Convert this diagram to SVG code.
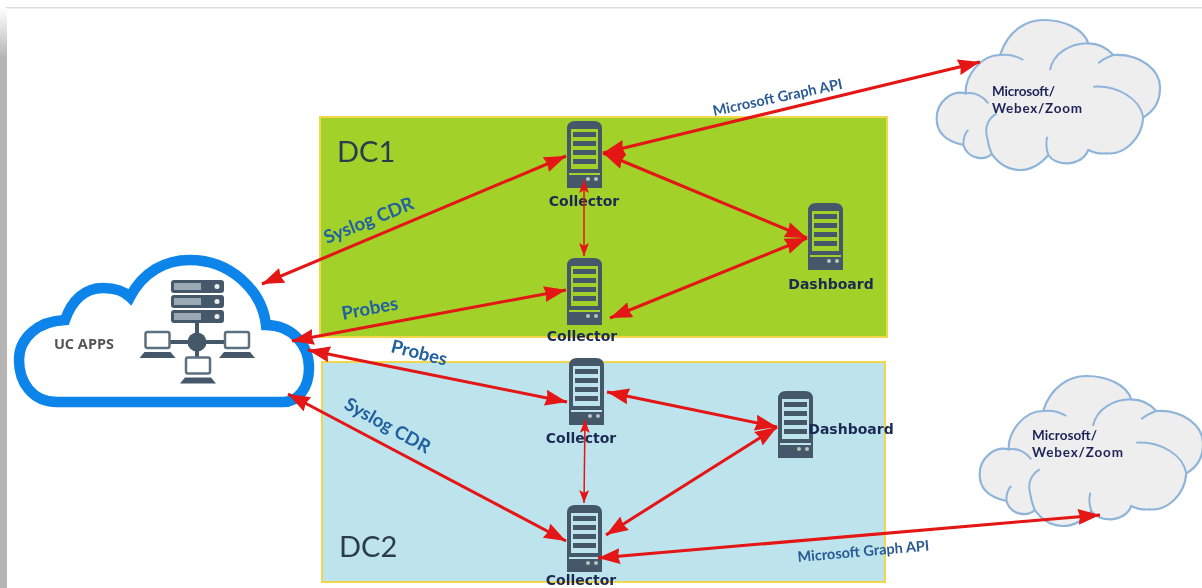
<svg xmlns="http://www.w3.org/2000/svg" width="1202" height="588" viewBox="0 0 1202 588">
<style>
.box{stroke:#f2d64b;stroke-width:2}
.node{font-family:"DejaVu Sans","Liberation Sans",sans-serif;font-weight:700;font-size:14px;fill:#1d2a52;text-anchor:middle}
.dc{font-family:"Lato","Liberation Sans",sans-serif;font-size:29px;fill:#2b3a4a}
.lab{font-family:"Lato","Liberation Sans",sans-serif;font-weight:700;font-size:18.500px;fill:#20609f}
.api{font-family:"Lato","Liberation Sans",sans-serif;font-weight:700;font-size:14.500px;fill:#2a5a94}
.cl{font-family:"Lato","Liberation Sans",sans-serif;font-weight:700;font-size:13.500px;fill:#1f2458}
.a{stroke:#e41212;stroke-width:3;fill:none;marker-start:url(#s);marker-end:url(#e)}
.t{stroke:#e41212;stroke-width:1.500;fill:none;marker-start:url(#s2);marker-end:url(#e2)}
.ic{fill:#44596b}
.cf{fill:#eeeeee;stroke:#8fb4da;stroke-width:6.500}
.cs{fill:none;stroke:#8fb4da;stroke-width:6}
</style>
<defs>
<filter id="soft" x="0" y="0" width="100%" height="100%"><feGaussianBlur stdDeviation="0.500"/></filter>
<linearGradient id="side" x1="0" y1="0" x2="0" y2="1"><stop offset="0" stop-color="#ffffff"/><stop offset="1" stop-color="#b5b5b5"/></linearGradient>
<marker id="e" markerUnits="userSpaceOnUse" markerWidth="23" markerHeight="16" refX="22" refY="8" orient="auto"><path d="M0 0L22 8L0 16L2 8Z" fill="#e41212"/></marker>
<marker id="s" markerUnits="userSpaceOnUse" markerWidth="23" markerHeight="16" refX="1" refY="8" orient="auto"><path d="M23 0L1 8L23 16L21 8Z" fill="#e41212"/></marker>
<marker id="e2" markerUnits="userSpaceOnUse" markerWidth="14" markerHeight="10" refX="13" refY="5" orient="auto"><path d="M0 0L13 5L0 10L3 5Z" fill="#e41212"/></marker>
<marker id="s2" markerUnits="userSpaceOnUse" markerWidth="14" markerHeight="10" refX="1" refY="5" orient="auto"><path d="M14 0L1 5L14 10L11 5Z" fill="#e41212"/></marker>
<g id="srv">
<path class="ic" fill-rule="evenodd" d="M8 0H27Q35 0 35 8V67H0V8Q0 0 8 0ZM4 8V48H31V8ZM2 52V54H33V52Z"/>
<rect x="6" y="11" width="23" height="5" class="ic"/>
<rect x="6" y="20" width="23" height="5" class="ic"/>
<rect x="6" y="29" width="23" height="5" class="ic"/>
<rect x="6" y="38" width="23" height="5" class="ic"/>
<circle cx="21" cy="58" r="2" fill="#b8c4bc"/><circle cx="29" cy="58" r="2" fill="#b8c4bc"/>
</g>
<g id="lap">
<rect x="-12" y="-8" width="24" height="16" rx="2" fill="#fff" stroke="#5c7080" stroke-width="2.500"/>
<path class="ic" d="M-13 12H13L18 18H-18Z"/>
</g>
<g id="rack">
<rect width="53" height="13" rx="3" class="ic"/>
<rect x="3" y="3" width="27" height="7" fill="#9aa9b4"/>
<circle cx="46" cy="6.500" r="2.500" fill="#e8eef0"/>
</g>
<g id="gray">
<path class="cf" d="M130 405C80 395 50 370 50 325C50 275 95 240 137 250C135 200 180 135 240 135C265 60 320 30 370 30C430 30 490 55 505 100C540 100 565 118 580 135C660 130 722 180 720 235C720 275 700 305 670 322C665 390 610 435 560 430C540 432 520 428 505 420C495 445 470 460 440 460C415 460 395 450 385 435C360 465 330 480 300 480C265 480 235 460 215 432C195 452 145 450 130 405Z"/>
<path class="cs" d="M240 135C265 132 290 138 310 150M137 250C165 245 190 260 205 280M130 405C130 385 135 368 145 360M230 310C205 325 195 350 200 375C203 395 208 415 215 432M385 435C378 415 378 395 382 380M390 180C400 130 450 100 505 100M535 160C548 148 565 140 580 135M520 230C590 225 660 265 670 322"/>
</g>
</defs>
<rect width="1202" height="588" fill="#fff"/>
<g filter="url(#soft)">
<rect x="6" y="7" width="1196" height="1.500" fill="#dddddd"/>
<rect y="8" width="7" height="50" fill="url(#side)"/>
<rect y="58" width="7" height="530" fill="#b5b5b5"/>
<g id="dc1"><rect class="box" x="320" y="117" width="567" height="220" fill="#a2d12c"/><text class="dc" x="337" y="162">DC1</text></g>
<g id="dc2"><rect class="box" x="322" y="362" width="563" height="220" fill="#bde4ec"/><text class="dc" x="339" y="557">DC2</text></g>
<g id="uc-apps">
<path fill="#fff" stroke="#0a84ea" stroke-width="10.500" d="M57 402C32 402 19 382 19 360C19 338 38 321 65 320C72 300 85 288 103 288C115 288 124 291 130 297C143 272 165 260 190 260C230 260 262 290 266 325C292 325 309 345 309 368C309 388 298 402 283 402Z"/>
<text x="84" y="349" font-family="Open Sans,Liberation Sans,sans-serif" font-weight="700" font-size="14.500px" fill="#545454" text-anchor="middle">UC APPS</text>
<use href="#rack" x="171" y="280"/><use href="#rack" x="171" y="295"/><use href="#rack" x="171" y="310"/>
<path d="M197 323V358M158 342H236" stroke="#44596b" stroke-width="4" fill="none"/>
<circle cx="197" cy="342" r="9.500" class="ic"/>
<use href="#lap" x="157.500" y="340"/><use href="#lap" x="237" y="340"/><use href="#lap" x="198" y="365.500"/>
</g>
<g id="cloud1"><use href="#gray" transform="translate(920 10) scale(.3333)"/><text class="cl" x="992" y="96" textLength="63">Microsoft/</text><text class="cl" x="992" y="113" textLength="90">Webex/Zoom</text></g>
<g id="cloud2"><use href="#gray" transform="translate(963 366) scale(.3333)"/><text class="cl" x="1032" y="440" textLength="65">Microsoft/</text><text class="cl" x="1032" y="457" textLength="91">Webex/Zoom</text></g>
<g id="collector-1"><use href="#srv" x="567" y="121"/><text class="node" x="584" y="206">Collector</text></g>
<g id="collector-2"><use href="#srv" x="567" y="258"/><text class="node" x="582" y="341">Collector</text></g>
<g id="dashboard-1"><use href="#srv" x="808" y="203"/><text class="node" x="831" y="289">Dashboard</text></g>
<g id="collector-3"><use href="#srv" x="569" y="358"/><text class="node" x="581" y="443">Collector</text></g>
<g id="dashboard-2"><use href="#srv" x="778" y="391"/><text class="node" x="851" y="434">Dashboard</text></g>
<g id="collector-4"><use href="#srv" x="567" y="505"/><text class="node" x="581" y="585">Collector</text></g>
<g id="connectors">
<path class="a" d="M262 284L566 156"/>
<path class="a" d="M292 341L566 290"/>
<path class="a" d="M308 350L567 402"/>
<path class="a" d="M288 394L566 541"/>
<path class="a" d="M603 153L980 62"/>
<path class="a" d="M603 153L807 238"/>
<path class="a" d="M610 318L807 238"/>
<path class="t" d="M584 180V256"/>
<path class="a" d="M607 392L777 427"/>
<path class="a" d="M606 535L777 427"/>
<path class="t" d="M585 420L584 503"/>
<path class="a" d="M598 558L1100 515"/>
</g>
<g id="labels">
<text class="lab" transform="translate(327 244) rotate(-22)">Syslog CDR</text>
<text class="lab" transform="translate(343 320) rotate(-11)">Probes</text>
<text class="lab" transform="translate(390 352) rotate(14)">Probes</text>
<text class="lab" transform="translate(343 408) rotate(29)">Syslog CDR</text>
<text class="api" transform="translate(714 116) rotate(-12)">Microsoft Graph API</text>
<text class="api" transform="translate(798 562) rotate(-5)">Microsoft Graph API</text>
</g>
</g>
</svg>
